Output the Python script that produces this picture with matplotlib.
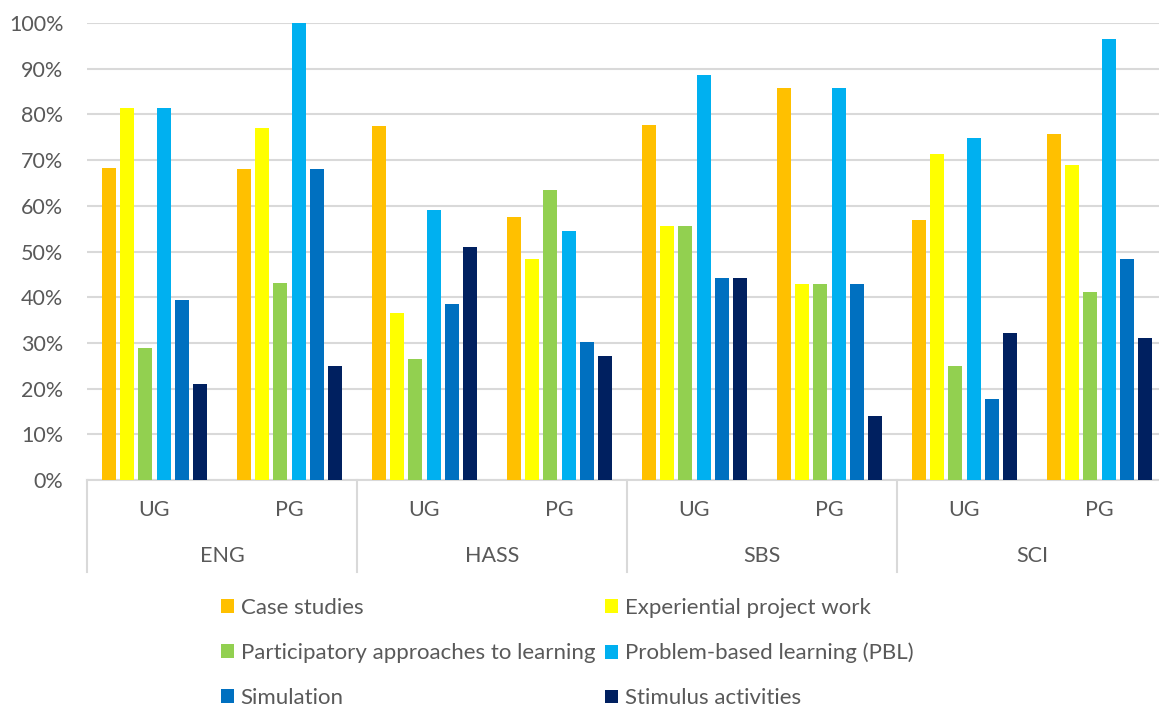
import matplotlib.pyplot as plt
from matplotlib.patches import Patch
from matplotlib.ticker import PercentFormatter
import matplotlib.transforms as mtransforms

# Chart data (share of units using each approach)
faculties = ["ENG", "HASS", "SBS", "SCI"]
levels = ["UG", "PG"]
series_names = [
    "Case studies",
    "Experiential project work",
    "Participatory approaches to learning",
    "Problem-based learning (PBL)",
    "Simulation",
    "Stimulus activities",
]
series_colors = ["#FFC000", "#FFFF00", "#92D050", "#00B0F0", "#0070C0", "#002060"]

# one value per cluster: ENG UG, ENG PG, HASS UG, HASS PG, SBS UG, SBS PG, SCI UG, SCI PG
case_studies = [0.683, 0.681, 0.774, 0.575, 0.776, 0.857, 0.570, 0.757]
experiential = [0.814, 0.771, 0.366, 0.483, 0.555, 0.428, 0.714, 0.689]
participatory = [0.288, 0.430, 0.265, 0.635, 0.555, 0.428, 0.249, 0.412]
pbl = [0.814, 1.000, 0.590, 0.544, 0.887, 0.857, 0.749, 0.965]
simulation = [0.393, 0.681, 0.386, 0.301, 0.443, 0.428, 0.178, 0.483]
stimulus = [0.210, 0.249, 0.509, 0.271, 0.443, 0.141, 0.321, 0.310]

series_values = [case_studies, experiential, participatory, pbl, simulation, stimulus]

plt.rcParams["font.family"] = ["Lato", "DejaVu Sans"]
text_color = "#595959"
grid_color = "#D9D9D9"
fs = 15.5

W, H = 1159, 709
fig = plt.figure(figsize=(W / 100, H / 100), dpi=100)
# plot area runs slightly past the right edge of the picture, as in the source
ax = fig.add_axes([87 / W, 1 - 480 / H, (1167 - 87) / W, (480 - 23) / H])

n_clusters = len(faculties) * len(levels)
step = 0.135
width = 0.104
for i, (vals, color) in enumerate(zip(series_values, series_colors)):
    xs = [c + (i - 2.5) * step for c in range(n_clusters)]
    ax.bar(xs, vals, width=width, color=color, zorder=3, linewidth=0)

ax.set_xlim(-0.5, n_clusters - 0.5)
ax.set_ylim(0, 1.0)
ax.set_yticks([i / 10 for i in range(11)])
ax.yaxis.set_major_formatter(PercentFormatter(1.0, decimals=0))
ax.grid(axis="y", color=grid_color, linewidth=1.5, zorder=0)
ax.set_axisbelow(True)
for s in ["left", "right", "top"]:
    ax.spines[s].set_visible(False)
ax.spines["bottom"].set_color(grid_color)
ax.spines["bottom"].set_linewidth(1.5)
ax.tick_params(axis="y", length=0, pad=17, labelsize=fs, labelcolor=text_color)
ax.set_xticks([])

# two-level category axis
trans = mtransforms.blended_transform_factory(ax.transData, ax.transAxes)
for c in range(n_clusters):
    ax.text(c, -0.066, levels[c % 2], transform=trans, ha="center", va="center",
            fontsize=fs, color=text_color)
for g, name in enumerate(faculties):
    ax.text(2 * g + 0.5, -0.166, name, transform=trans, ha="center", va="center",
            fontsize=fs, color=text_color)
for g in range(len(faculties) + 1):
    ax.plot([2 * g - 0.5, 2 * g - 0.5], [0, -0.201], transform=trans, color=grid_color,
            linewidth=1.5, clip_on=False)

# legend, filled row by row
handles = [Patch(facecolor=c, edgecolor="none") for c in series_colors]
order = [0, 2, 4, 1, 3, 5]
fig.legend([handles[i] for i in order], [series_names[i] for i in order],
           ncol=2, loc="upper left", bbox_to_anchor=(221 / W, 1 - 598 / H),
           frameon=False, fontsize=16, labelcolor=text_color,
           handlelength=0.58, handleheight=0.58, handletextpad=0.3,
           columnspacing=0.45, labelspacing=1.12, borderpad=0, borderaxespad=0)

fig.savefig("out.png", dpi=100)
